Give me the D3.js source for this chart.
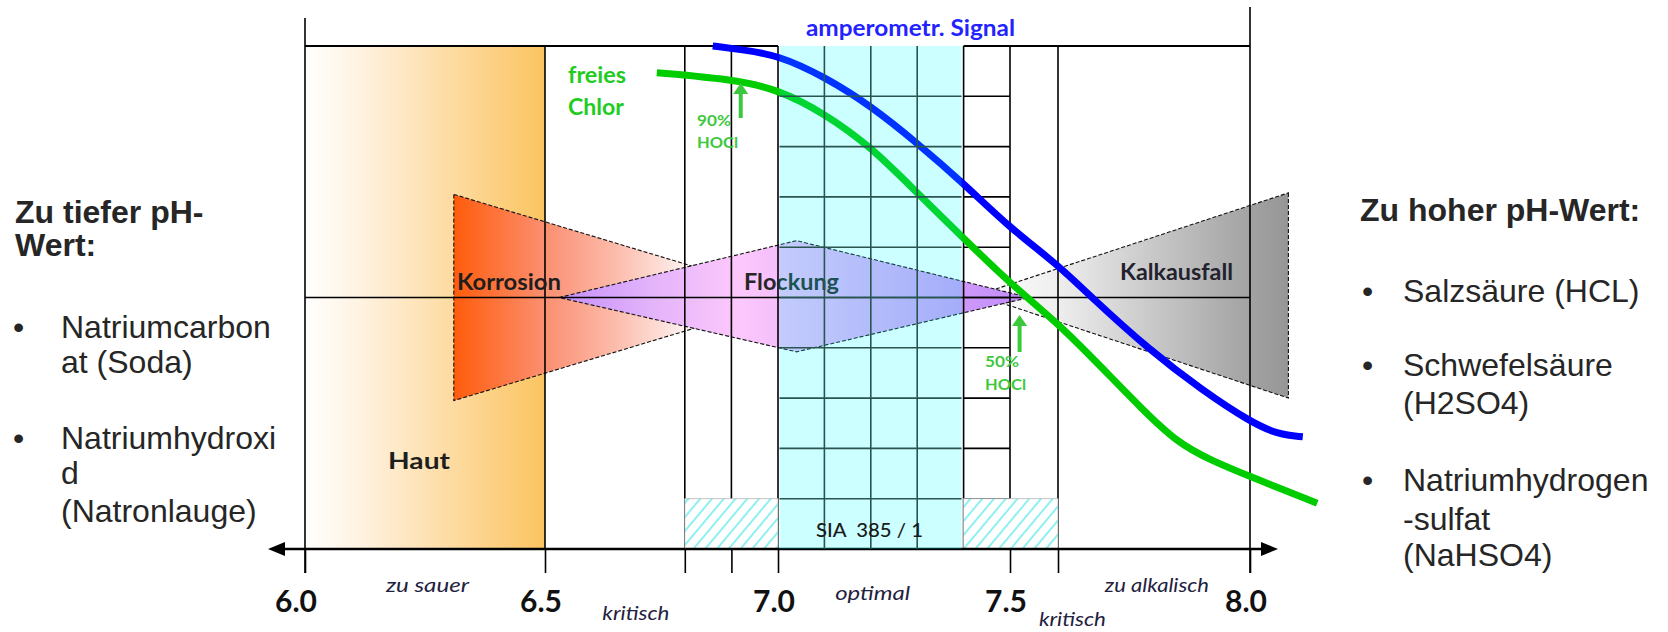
<!DOCTYPE html>
<html><head><meta charset="utf-8">
<script src="https://cdn.jsdelivr.net/npm/d3@7"></script>
<style>html,body{margin:0;background:#fff}svg{display:block}</style>
</head><body>
<svg id="c" width="1668" height="632"></svg>
<script>
// ---------- data ----------
const phBreaks = [6.0, 6.5, 7.0, 7.5, 8.0];
const tickLabels = ["6.0", "6.5", "7.0", "7.5", "8.0"];
const gridLinesPh = [6.5, 6.8, 6.9, 7.0, 7.4, 7.5, 7.6];
const tickPh = [6.0, 6.5, 6.8, 6.9, 7.0, 7.5, 7.6, 8.0];
const optimalRange = [7.0, 7.4];
const innerGridPh = [7.1, 7.2, 7.3];
const hatchRanges = [[6.8, 7.0], [7.4, 7.6]];
const hautRange = [6.0, 6.5];
const zoneLabels = ["zu sauer", "kritisch", "optimal", "kritisch", "zu alkalisch"];
const zonePh = [6.255, 6.695, 7.204, 7.63, 7.806];
// shapes: [pH, level %]
const korrosion = [[6.31, 70.5], [6.31, 29.5], [7.04, 50]];
const flockung = [[6.53, 50], [7.04, 61.3], [7.54, 50], [7.04, 39.2]];
const kalkausfall = [[8.08, 70.8], [8.08, 30], [7.43, 50.5]];
// curves
const signalPh  = [6.86, 6.92, 7.0, 7.1, 7.2, 7.3, 7.4, 7.5, 7.6, 7.67, 7.79, 7.9, 8.0, 8.06, 8.11];
const signalVal = [100, 99.3, 98.2, 93.9, 88.1, 80.7, 72.7, 63.8, 56.5, 50, 39.6, 31.6, 25.3, 22.7, 22.3];
const chlorPh   = [6.74, 6.9, 7.0, 7.1, 7.2, 7.3, 7.4, 7.5, 7.6, 7.69, 7.77, 7.85, 7.92, 8.0, 8.14];
const chlorVal  = [94.7, 93.4, 91.4, 86.6, 80.0, 70.8, 61.8, 52.8, 44.9, 36.2, 28.3, 21.0, 17.6, 14.4, 9.1];
const hoclMarks = [{ph: 6.92, label: ["90%", "HOCl"]}, {ph: 7.52, label: ["50%", "HOCl"]}];
const leftHead = ["Zu tiefer pH-", "Wert:"];
const leftItems = [["Natriumcarbon", "at (Soda)"], ["Natriumhydroxi", "d", "(Natronlauge)"]];
const rightHead = ["Zu hoher pH-Wert:"];
const rightItems = [["Salzsäure (HCL)"], ["Schwefelsäure", "(H2SO4)"], ["Natriumhydrogen", "-sulfat", "(NaHSO4)"]];

// ---------- scales ----------
const svg = d3.select("#c");
const x = d3.scaleLinear().domain(phBreaks).range([305, 545, 778, 1010, 1250]);
const y = d3.scaleLinear().domain([0, 100]).range([549, 46]);
const levels = d3.range(10, 100, 10);
const defs = svg.append("defs");

function grad(id, x1, x2, stops) {
  const g = defs.append("linearGradient").attr("id", id)
    .attr("gradientUnits", "userSpaceOnUse").attr("x1", x1).attr("x2", x2).attr("y1", 0).attr("y2", 0);
  stops.forEach(s => g.append("stop").attr("offset", s[0]).attr("stop-color", s[1]));
}
grad("gHaut", x(hautRange[0]), x(hautRange[1]), [[0, "#ffffff"], [0.25, "#fff1de"], [1, "#fbc460"]]);
grad("gKorr", x(korrosion[0][0]), x(korrosion[2][0]), [[0, "#ff5c0c"], [0.28, "#fb9275"], [0.46, "#fcb9a8"], [0.62, "#fde2dc"], [0.72, "#ffffff"]]);
grad("gFlock", x(flockung[0][0]), x(flockung[2][0]), [[0, "#c490fa"], [0.19, "#e2b2fb"], [0.38, "#fdc8fc"], [1, "#c08bf8"]]);
grad("gKalk", x(kalkausfall[2][0]), x(kalkausfall[0][0]), [[0, "#ffffff"], [0.25, "#efefef"], [0.6, "#c4c4c4"], [0.88, "#a2a2a2"], [1, "#969696"]]);
const pat = defs.append("pattern").attr("id", "hatch").attr("patternUnits", "userSpaceOnUse")
  .attr("width", 9).attr("height", 9).attr("patternTransform", "rotate(40)");
pat.append("rect").attr("width", 9).attr("height", 9).attr("fill", "#fff");
pat.append("line").attr("x1", 2).attr("x2", 2).attr("y1", 0).attr("y2", 9).attr("stroke", "#8ff0f0").attr("stroke-width", 2);

const poly = pts => pts.map(p => [x(p[0]), y(p[1])].join(",")).join(" ");

// ---------- background zones ----------
svg.append("rect").attr("x", x(hautRange[0])).attr("y", y(100)).attr("width", x(hautRange[1]) - x(hautRange[0]))
  .attr("height", y(0) - y(100)).attr("fill", "url(#gHaut)");

const dashed = sel => sel.attr("stroke", "#111").attr("stroke-width", 1.1).attr("stroke-dasharray", "4,2");
dashed(svg.append("polygon").attr("points", poly(korrosion)).attr("fill", "url(#gKorr)"));
dashed(svg.append("polygon").attr("points", poly(kalkausfall)).attr("fill", "url(#gKalk)"));
dashed(svg.append("polygon").attr("points", poly(flockung)).attr("fill", "url(#gFlock)"));

// ---------- black frame lines ----------
const lines = svg.append("g").attr("stroke", "#000").attr("stroke-width", 1.6);
gridLinesPh.forEach(v => lines.append("line").attr("x1", x(v)).attr("x2", x(v)).attr("y1", y(100)).attr("y2", y(0)));
lines.append("line").attr("x1", x(6.0)).attr("x2", x(6.0)).attr("y1", 18).attr("y2", y(0) + 24);
lines.append("line").attr("x1", x(8.0)).attr("x2", x(8.0)).attr("y1", 7).attr("y2", y(0) + 24);
lines.append("line").attr("x1", x(6.0)).attr("x2", x(optimalRange[0])).attr("y1", y(100)).attr("y2", y(100)).attr("stroke-width", 2);
lines.append("line").attr("x1", x(optimalRange[1])).attr("x2", x(8.0)).attr("y1", y(100)).attr("y2", y(100)).attr("stroke-width", 2);
lines.append("line").attr("x1", x(6.0)).attr("x2", x(8.0)).attr("y1", y(50)).attr("y2", y(50));
levels.forEach(l => lines.append("line").attr("x1", x(optimalRange[1])).attr("x2", x(7.5)).attr("y1", y(l)).attr("y2", y(l)));

// hatched critical zones
hatchRanges.forEach(r => svg.append("rect").attr("x", x(r[0])).attr("y", y(10)).attr("width", x(r[1]) - x(r[0]))
  .attr("height", y(0) - y(10)).attr("fill", "url(#hatch)").attr("stroke", "#b5b5b5").attr("stroke-width", 0.8));

// axis with ticks
const axisG = svg.append("g").attr("transform", `translate(0,${y(0)})`)
  .call(d3.axisBottom(x).tickValues(tickPh).tickSize(24).tickFormat(""));
axisG.select(".domain").remove();
axisG.selectAll(".tick line").attr("stroke", "#000").attr("stroke-width", 1.6);
svg.append("line").attr("x1", 276).attr("x2", 1270).attr("y1", y(0)).attr("y2", y(0)).attr("stroke", "#000").attr("stroke-width", 2.5);
svg.append("path").attr("d", `M268,${y(0)} L285,${y(0) - 7} L285,${y(0) + 7} Z`).attr("fill", "#000");
svg.append("path").attr("d", `M1278,${y(0)} L1261,${y(0) - 7} L1261,${y(0) + 7} Z`).attr("fill", "#000");

function label(str, px, py, o) {
  const t = svg.append("text").attr("x", px).attr("y", py).text(str)
    .attr("font-family", o.family || "Lato, 'Open Sans', sans-serif")
    .attr("font-size", o.size).attr("font-weight", o.weight || "normal")
    .attr("font-style", o.style || "normal").attr("fill", o.fill || "#222")
    .attr("text-anchor", o.anchor || "start").style("white-space", "pre");
  if (o.len) t.attr("textLength", o.len).attr("lengthAdjust", "spacingAndGlyphs");
  return t;
}
// Flockung label (under the cyan overlay)
label("Flockung", 744, 290, {size: 23, weight: "bold", fill: "#262626", len: 95});

// ---------- curves ----------
const line = d3.line().x(d => x(d[0])).y(d => y(d[1])).curve(d3.curveBasis);
svg.append("path").attr("d", line(signalPh.map((p, i) => [p, signalVal[i]])))
  .attr("fill", "none").attr("stroke", "#0000ff").attr("stroke-width", 7);
svg.append("path").attr("d", line(chlorPh.map((p, i) => [p, chlorVal[i]])))
  .attr("fill", "none").attr("stroke", "#00cc00").attr("stroke-width", 7);

// ---------- optimal (cyan) zone with grid ----------
svg.append("rect").attr("x", x(optimalRange[0]) + 1.5).attr("y", y(100)).attr("width", x(optimalRange[1]) - x(optimalRange[0]) - 3.5)
  .attr("height", y(0) - y(100)).attr("fill", "#00ffff").attr("fill-opacity", 0.2);
const grid = svg.append("g").attr("stroke", "#2a5450").attr("stroke-width", 1.6);
innerGridPh.forEach(v => grid.append("line").attr("x1", x(v)).attr("x2", x(v)).attr("y1", y(100)).attr("y2", y(0)));
levels.forEach(l => grid.append("line").attr("x1", x(optimalRange[0]) + 1.5).attr("x2", x(optimalRange[1]) - 2).attr("y1", y(l)).attr("y2", y(l)));

// ---------- labels ----------
label("Korrosion", 457, 290, {size: 23, weight: "bold", fill: "#1e1e1e", len: 104});
label("Kalkausfall", 1120, 280, {size: 23, weight: "bold", fill: "#22222e", len: 113});
label("Haut", 388, 469, {size: 23, weight: "bold", fill: "#1e1e1e", len: 62});
label("amperometr. Signal", 806, 36, {size: 22, weight: "bold", fill: "#2323ff", len: 209});
label("freies", 568, 83, {size: 22, weight: "bold", fill: "#1fcc1f", len: 58});
label("Chlor", 568, 115, {size: 22, weight: "bold", fill: "#1fcc1f", len: 56});
label("SIA  385 / 1", 816, 537, {size: 20, weight: 500, fill: "#1a1a1a", len: 107});

// HOCl arrows
const hoclPos = [{tip: 83, base: 118, tx: 697, ty: [126, 148]}, {tip: 315, base: 352, tx: 985, ty: [367, 390]}];
hoclMarks.forEach((m, i) => {
  const p = hoclPos[i], xx = x(m.ph);
  svg.append("line").attr("x1", xx).attr("x2", xx).attr("y1", p.base).attr("y2", p.tip + 8).attr("stroke", "#3cc83c").attr("stroke-width", 4);
  svg.append("path").attr("d", `M${xx},${p.tip} L${xx - 7.5},${p.tip + 11} L${xx + 7.5},${p.tip + 11} Z`).attr("fill", "#3cc83c");
  label(m.label[0], p.tx, p.ty[0], {size: 15, weight: "bold", fill: "#3ec83e", len: 34});
  label(m.label[1], p.tx, p.ty[1], {size: 15, weight: "bold", fill: "#3ec83e", len: 41});
});

// tick labels
phBreaks.forEach((v, i) => label(tickLabels[i], x(v) - (i === 0 ? 9 : 4), 612, {size: 30, weight: "bold", fill: "#111", anchor: "middle"}));
// zone labels
const zoneY = [592, 620, 600, 626, 592], zoneW = [83, 67, 75, 67, 104];
zoneLabels.forEach((z, i) => label(z, x(zonePh[i]), zoneY[i], {size: 19, style: "italic", fill: "#1f2240", anchor: "middle", len: zoneW[i]}));

// ---------- side panels ----------
const arial = "'Liberation Sans', Arial, sans-serif";
function panel(x0, bx, tx, head, headY, items, itemYs) {
  head.forEach((h, i) => label(h, x0, headY[i], {size: 32, weight: "bold", fill: "#262626", family: arial}));
  let k = 0;
  items.forEach(it => {
    it.forEach((s, j) => {
      if (j === 0) label("•", bx, itemYs[k], {size: 32, fill: "#262626", family: arial});
      label(s, tx, itemYs[k], {size: 32, fill: "#262626", family: arial});
      k++;
    });
  });
}
panel(15, 13, 61, leftHead, [223, 256], leftItems, [338, 373, 449, 484, 522]);
panel(1360, 1362, 1403, rightHead, [221], rightItems, [302, 376, 414, 491, 530, 566]);
</script>
</body></html>
